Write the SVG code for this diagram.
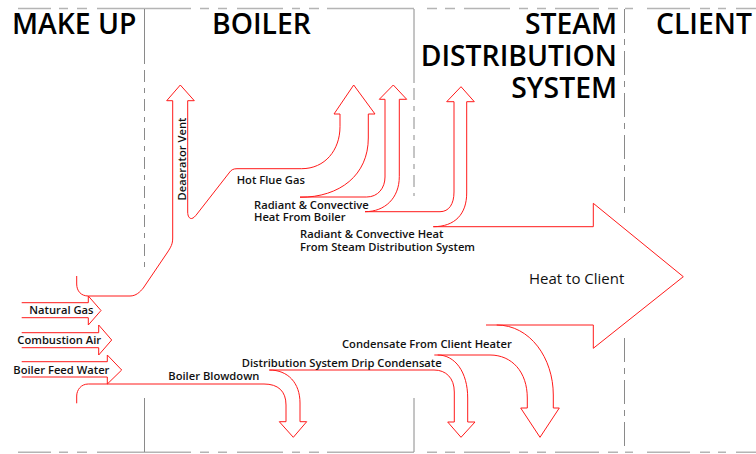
<svg xmlns="http://www.w3.org/2000/svg" width="756" height="454" viewBox="0 0 756 454">
<style>
.hdr{font-family:"Open Sans","Liberation Sans",sans-serif;font-size:28.3px;font-weight:600;fill:#000}
.lbl{font-family:"Open Sans","Liberation Sans",sans-serif;font-size:11.2px;font-weight:600;fill:#111}
.big{font-family:"Open Sans","Liberation Sans",sans-serif;font-size:15px;font-weight:500;fill:#111}
.flow{fill:none;stroke:#ff1a1a;stroke-width:1;stroke-linejoin:miter}
.border{fill:none;stroke:#b4b4b4;stroke-width:1.5}
.div{fill:none;stroke:#8a8a8a;stroke-width:1}
</style>
<rect width="756" height="454" fill="#fff"/>
<g id="frame">
<path class="border" d="M18 8.5H51M59 8.5H68M77 8.5H87M97 8.5H191M200 8.5H209M218 8.5H227M237 8.5H283M292 8.5H300M309 8.5H319M327 8.5H414M427 8.5H437M445 8.5H455M464 8.5H510M519 8.5H528M537 8.5H546M555 8.5H599M608 8.5H618M625 8.5H633M647 8.5H690M700 8.5H710M718 8.5H726M736 8.5H756"/>
<path class="border" d="M18 452.3H51M59 452.3H68M77 452.3H87M97 452.3H191M200 452.3H209M218 452.3H227M237 452.3H283M292 452.3H300M309 452.3H319M327 452.3H414M427 452.3H437M445 452.3H455M464 452.3H510M519 452.3H528M537 452.3H546M555 452.3H599M608 452.3H618M625 452.3H633M647 452.3H690M700 452.3H710M718 452.3H726M736 452.3H756"/>
</g>
<g id="zone-makeup">
<text class="hdr" x="12" y="34">MAKE UP</text>
</g>
<g id="zone-boiler">
<path class="div" d="M144.5 9V64"/>
<path class="div" d="M144.5 70V268" stroke-dasharray="12 6 5 6"/>
<path class="div" d="M144.5 398V452"/>
<text class="hdr" x="212" y="34">BOILER</text>
</g>
<g id="zone-steam">
<path class="div" d="M414 9V83"/>
<path class="div" d="M414 88V196" stroke-dasharray="12 6 5 6"/>
<path class="div" d="M414 398V452"/>
<text class="hdr" text-anchor="end" x="617" y="34">STEAM</text>
<text class="hdr" text-anchor="end" x="617" y="66">DISTRIBUTION</text>
<text class="hdr" text-anchor="end" x="617" y="98">SYSTEM</text>
</g>
<g id="zone-client">
<path class="div" d="M624.5 9V213M624.5 338V452" stroke-dasharray="24 6 6 6"/>
<text class="hdr" x="656" y="34">CLIENT</text>
</g>
<g id="connectors">
<path id="natural-gas" class="flow" d="M21.7 302.7H88.3V296L101 310.5L88.3 325V317.7H21.7"/>
<path id="combustion-air" class="flow" d="M21.7 332.7H98.7V325L111.7 340L98.7 355V347.7H21.7"/>
<path id="feed-water" class="flow" d="M21.7 361.7H107.3V355L121.7 370L107.3 384V377H21.7"/>
<path id="top-edge" class="flow" d="M76.7 276V284C76.7 291 81 296 88.3 296H130C136 296 140 292 143.3 288L167 253C171 247 172.7 244 172.7 238V100.7H166.7L180.3 85L194.3 100.7H187.7V212C187.7 216.5 189.5 218.8 191.7 218.5C193.5 218.2 195 216.5 197 214L229 173C231 170 233 168.7 237 168.7H301.7C325 168.7 340 150 340 126.7V114H334L353.7 85L375 114H368.3V138C368.3 175 340 197.3 300 197.3"/>
<path id="radiant-boiler" class="flow" d="M300 197H366.7C378 197 385 188 385 177V99.3H379.3L393.3 85L406.7 99.3H399.3V176.7C399.3 198 385 211.7 365 211.7"/>
<path id="radiant-steam" class="flow" d="M365 211.7H440C449 211.7 454 204 454 192V101.7H446.7L461 86.7L474.3 101.7H466.7V193C466.7 214 455 226.7 433.3 226.7H593.3V203.3L683.3 276.7L593.3 348.3V325H486"/>
<path id="client-condensate" class="flow" d="M496.7 325C530 325 553.3 358 553.3 395V408H559.3L540 437.3L520.7 408H527.3V398C527.3 372 512 355 490 355H434.3"/>
<path id="bottom-edge" class="flow" d="M437.7 355C455 355 467.7 372 467.7 398V422H475L461 437.3L447.7 422H454.3V392C454.3 378 446 370 434 370H269.3C288 370 300 383 300 403V421.7H306.7L293.3 437.3L279.3 421.7H286V405C286 391 278 384 264 384H88.3C81 384 76.7 390 76.7 396V403.3"/>
</g>
<g id="labels">
<text class="lbl" transform="translate(185.5 159) rotate(-90)" text-anchor="middle">Deaerator Vent</text>
<text class="lbl" x="236.7" y="184.3">Hot Flue Gas</text>
<text class="lbl" x="254" y="209.3">Radiant &amp; Convective</text>
<text class="lbl" x="254" y="221">Heat From Boiler</text>
<text class="lbl" x="300" y="238.3">Radiant &amp; Convective Heat</text>
<text class="lbl" x="300" y="250.7">From Steam Distribution System</text>
<text class="big" x="529" y="284.3">Heat to Client</text>
<text class="lbl" x="342" y="347.7">Condensate From Client Heater</text>
<text class="lbl" x="241.7" y="366.7">Distribution System Drip Condensate</text>
<text class="lbl" x="168.3" y="380">Boiler Blowdown</text>
<text class="lbl" x="29.3" y="314">Natural Gas</text>
<text class="lbl" x="17.3" y="344">Combustion Air</text>
<text class="lbl" x="13.3" y="374">Boiler Feed Water</text>
</g>
</svg>
